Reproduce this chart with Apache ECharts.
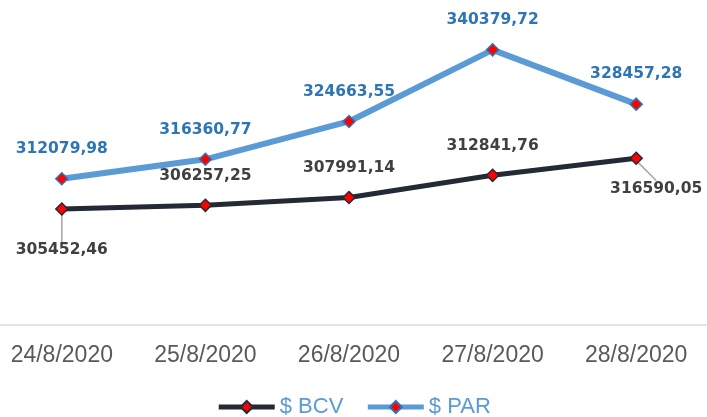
<!DOCTYPE html>
<html><head><meta charset="utf-8">
<script src="https://cdn.jsdelivr.net/npm/echarts@6/dist/echarts.min.js"></script>
<style>html,body{margin:0;padding:0;background:#fff}#c{width:707px;height:417px}</style>
</head><body><div id="c"></div>
<script>
const categories = ['24/8/2020','25/8/2020','26/8/2020','27/8/2020','28/8/2020'];
const bcvValues = [305452.46, 306257.25, 307991.14, 312841.76, 316590.05];
const parValues = [312079.98, 316360.77, 324663.55, 340379.72, 328457.28];
const seriesNames = ['$ BCV', '$ PAR'];
const bcvLeaderIdx = [0, 4];

function fmt(v){ return v.toFixed(2).replace('.', ','); }

const chart = echarts.init(document.getElementById('c'));
const labelFont = {fontFamily:'DejaVu Sans', fontWeight:'bold', fontSize:15.5};
chart.setOption({
  animation:false,
  grid:{left:-10, right:-1, top:6, bottom:92, containLabel:false, outerBoundsMode:'none'},
  xAxis:{type:'category', data:categories, boundaryGap:true,
    axisLine:{lineStyle:{color:'#d9d9d9', width:1.5}}, axisTick:{show:false},
    axisLabel:{color:'#595959', fontSize:23, fontFamily:'Liberation Sans', fontWeight:'normal', margin:19}},
  yAxis:{type:'value', min:280000, max:350000, show:false, splitLine:{show:false}},
  legend:{bottom:-6, left:'center', itemWidth:56, itemHeight:15, itemGap:22,
    lineStyle:{width:5},
    textStyle:{color:'#5b9bd5', fontSize:22, fontFamily:'Liberation Sans'},
    data:seriesNames},
  series:[
    {name:seriesNames[0], type:'line', symbol:'diamond', symbolSize:12,
     data:bcvValues.map((v,i)=>({value:v, labelLine:{show:bcvLeaderIdx.includes(i)}})),
     lineStyle:{color:'#232a35', width:5}, itemStyle:{color:'#ff0000', borderColor:'#232a35', borderWidth:1.5},
     label:{show:true, position:'top', distance:15, color:'#404040', formatter:p=>fmt(p.value), ...labelFont},
     labelLine:{show:true, lineStyle:{color:'#a6a6a6', width:1.5}},
     labelLayout:function(p){
       if(p.dataIndex===0) return {dy:71};
       if(p.dataIndex===4) return {dx:20, dy:60};
       return {};
     }},
    {name:seriesNames[1], type:'line', data:parValues, symbol:'diamond', symbolSize:12,
     lineStyle:{color:'#5b9bd5', width:6}, itemStyle:{color:'#ff0000', borderColor:'#2e75b6', borderWidth:1.5},
     label:{show:true, position:'top', distance:15, color:'#2e75b6', formatter:p=>fmt(p.value), ...labelFont}}
  ]
});
</script></body></html>
